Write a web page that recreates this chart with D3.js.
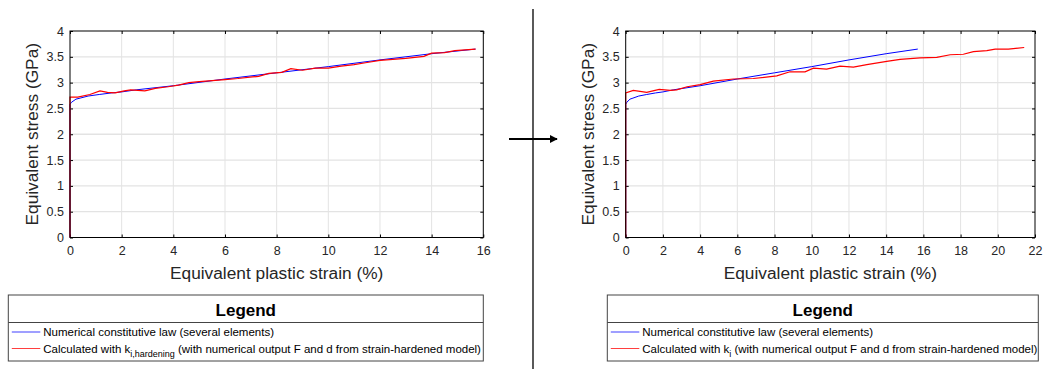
<!DOCTYPE html>
<html lang="en">
<head>
<meta charset="UTF-8">
<script src="https://cdnjs.cloudflare.com/ajax/libs/d3/7.8.5/d3.min.js"></script>
<title>Equivalent stress vs plastic strain</title>
<style>
  body { margin: 0; background: #fff; }
  text { font-family: "Liberation Sans", Arial, sans-serif; }
</style>
</head>
<body>
<script>

    // numerical constitutive law (same curve in both panels)
    let blueX = [0, 0, 0.06, 0.23, 0.39, 0.7, 1.13, 1.6, 2.0, 2.56, 4, 6, 8, 10, 12, 14, 15.7];
    let blueY = [0, 2.58, 2.62, 2.68, 2.70, 2.74, 2.77, 2.80, 2.82, 2.86, 2.94, 3.07, 3.19, 3.31, 3.44, 3.56, 3.65];

    // left panel: calculated with k_i,hardening
    let redLX = [0, 0, 0.3, 0.77, 1.16, 1.45, 1.75, 2.1, 2.35, 2.9, 3.3, 3.8, 4.2, 4.6, 5.0, 5.5, 6.0, 6.5, 7.06, 7.3, 7.7, 8.2, 8.55, 9.0, 9.5, 10.0, 10.5, 11.0, 11.5, 12.0, 12.5, 13.0, 13.7, 14.0, 14.5, 14.9, 15.7];
    let redLY = [0, 2.72, 2.72, 2.77, 2.84, 2.81, 2.80, 2.84, 2.86, 2.84, 2.89, 2.92, 2.95, 3.00, 3.02, 3.04, 3.06, 3.08, 3.11, 3.12, 3.18, 3.20, 3.27, 3.24, 3.28, 3.28, 3.32, 3.35, 3.39, 3.43, 3.45, 3.47, 3.51, 3.57, 3.58, 3.62, 3.65];

    // right panel: calculated with k_i
    let redRX = [0, 0, 0.41, 1.13, 1.8, 2.4, 2.74, 3.3, 4.0, 4.71, 5.79, 6.86, 8.12, 8.83, 9.64, 10.09, 10.8, 11.52, 12.24, 12.96, 14.03, 14.75, 15.82, 16.72, 17.44, 18.15, 18.69, 19.41, 19.86, 20.57, 21.42];
    let redRY = [0, 2.80, 2.85, 2.81, 2.87, 2.85, 2.86, 2.92, 2.96, 3.03, 3.07, 3.08, 3.13, 3.21, 3.21, 3.28, 3.26, 3.32, 3.30, 3.35, 3.41, 3.45, 3.48, 3.49, 3.54, 3.55, 3.60, 3.62, 3.65, 3.65, 3.68];

    let yTicks = [0, 0.5, 1, 1.5, 2, 2.5, 3, 3.5, 4];
    let xTicksL = [0, 2, 4, 6, 8, 10, 12, 14, 16];
    let xTicksR = [0, 2, 4, 6, 8, 10, 12, 14, 16, 18, 20, 22];

    let legendBlue = "Numerical constitutive law (several elements)";
    let legendRedPre = "Calculated with k";
    let legendRedPost = " (with numerical output F and d from strain-hardened model)";

    let svg = d3.select("body").append("svg")
        .attr("width", 1046)
        .attr("height", 369);

    let txtColor = "#262626";

    function zip(xs, ys) { return xs.map(function(v, i) { return [v, ys[i]]; }); }

    function panel(left, right, xMax, xTicks, redX, redY) {
        let top = 31, bottom = 237.5;
        let x = d3.scaleLinear().domain([0, xMax]).range([left, right]);
        let y = d3.scaleLinear().domain([0, 4]).range([bottom, top]);
        let g = svg.append("g");

        // grid
        g.append("g").selectAll("line").data(xTicks.slice(1, -1)).enter().append("line")
            .attr("x1", d => x(d)).attr("x2", d => x(d))
            .attr("y1", top).attr("y2", bottom)
            .attr("stroke", "#e3e3e3").attr("stroke-width", 1);
        g.append("g").selectAll("line").data(yTicks.slice(1, -1)).enter().append("line")
            .attr("y1", d => y(d)).attr("y2", d => y(d))
            .attr("x1", left).attr("x2", right)
            .attr("stroke", "#e3e3e3").attr("stroke-width", 1.3);

        // axes, ticks inward on all four sides
        let ax = function(a) { return a.tickSizeInner(-3).tickSizeOuter(0).tickPadding(6); };
        let bot = g.append("g").attr("transform", "translate(0," + bottom + ")")
            .call(ax(d3.axisBottom(x).tickValues(xTicks).tickFormat(d3.format("d"))));
        let lft = g.append("g").attr("transform", "translate(" + left + ",0)")
            .call(ax(d3.axisLeft(y).tickValues(yTicks).tickFormat(d => d)));
        let tp = g.append("g").attr("transform", "translate(0," + top + ")")
            .call(ax(d3.axisTop(x).tickValues(xTicks).tickFormat("")));
        let rt = g.append("g").attr("transform", "translate(" + right + ",0)")
            .call(ax(d3.axisRight(y).tickValues(yTicks).tickFormat("")));
        [bot, lft, tp, rt].forEach(function(a) {
            a.select(".domain").remove();
            a.selectAll("line").attr("stroke", "#000");
            a.selectAll("text").attr("fill", txtColor).style("font-size", "12.5px")
                .style("font-family", "'Liberation Sans', Arial, sans-serif");
        });
        bot.selectAll("text").attr("dy", "0.9em");

        let line = d3.line().x(d => x(d[0])).y(d => y(d[1]));
        g.append("path").datum(zip(blueX, blueY)).attr("d", line)
            .attr("fill", "none").attr("stroke", "#0000ff").attr("stroke-width", 1);
        g.append("path").datum(zip(redX, redY)).attr("d", line)
            .attr("fill", "none").attr("stroke", "#ff0000").attr("stroke-width", 1.2);

        // box
        g.append("rect").attr("x", left).attr("y", top)
            .attr("width", right - left).attr("height", bottom - top)
            .attr("fill", "none").attr("stroke", "#000").attr("stroke-width", 1);

        g.append("text").attr("x", (left + right) / 2).attr("y", 279)
            .attr("text-anchor", "middle").attr("fill", txtColor)
            .style("font-size", "17.3px").text("Equivalent plastic strain (%)");
        g.append("text")
            .attr("transform", "translate(" + (left - 32) + "," + ((top + bottom) / 2) + ") rotate(-90)")
            .attr("text-anchor", "middle").attr("fill", txtColor)
            .style("font-size", "17.3px").text("Equivalent stress (GPa)");
    }

    function legend(x0, x1, sub) {
        let g = svg.append("g");
        g.append("rect").attr("x", x0).attr("y", 295).attr("width", x1 - x0).attr("height", 66)
            .attr("fill", "#fff").attr("stroke", "#444").attr("stroke-width", 1);
        g.append("line").attr("x1", x0).attr("x2", x1).attr("y1", 322.5).attr("y2", 322.5)
            .attr("stroke", "#444").attr("stroke-width", 1);
        g.append("text").attr("x", (x0 + x1) / 2).attr("y", 316).attr("text-anchor", "middle")
            .style("font-size", "17px").style("font-weight", "bold").attr("fill", "#000").text("Legend");
        let entries = [{c: "#0000ff", y: 332}, {c: "#ff0000", y: 348.5}];
        entries.forEach(function(e) {
            g.append("line").attr("x1", x0 + 3.5).attr("x2", x0 + 32).attr("y1", e.y).attr("y2", e.y)
                .attr("stroke", e.c).attr("stroke-width", 1).attr("opacity", 0.75);
        });
        g.append("text").attr("x", x0 + 35).attr("y", 336).style("font-size", "11.5px")
            .attr("fill", "#000").text(legendBlue);
        let t = g.append("text").attr("x", x0 + 35).attr("y", 352.5).style("font-size", "11.5px")
            .attr("fill", "#000");
        t.append("tspan").text(legendRedPre);
        t.append("tspan").attr("dy", 4).style("font-size", "9px").text(sub);
        t.append("tspan").attr("dy", -4).text(legendRedPost);
    }

    panel(70, 483.3, 16, xTicksL, redLX, redLY);
    panel(625.7, 1035, 22, xTicksR, redRX, redRY);
    legend(8.3, 483.3, "i,hardening");
    legend(607.3, 1038.3, "i");

    // separator and arrow
    svg.append("line").attr("x1", 533).attr("x2", 533).attr("y1", 9).attr("y2", 369)
        .attr("stroke", "#000").attr("stroke-width", 1.3);
    svg.append("defs").append("marker").attr("id", "ah")
        .attr("viewBox", "0 0 10 10").attr("refX", 9).attr("refY", 5)
        .attr("markerWidth", 4).attr("markerHeight", 4).attr("orient", "auto")
        .append("path").attr("d", "M0,0 L10,5 L0,10 z").attr("fill", "#000");
    svg.append("line").attr("x1", 509).attr("x2", 557).attr("y1", 139).attr("y2", 139)
        .attr("stroke", "#000").attr("stroke-width", 2).attr("marker-end", "url(#ah)");

</script>
</body>
</html>
